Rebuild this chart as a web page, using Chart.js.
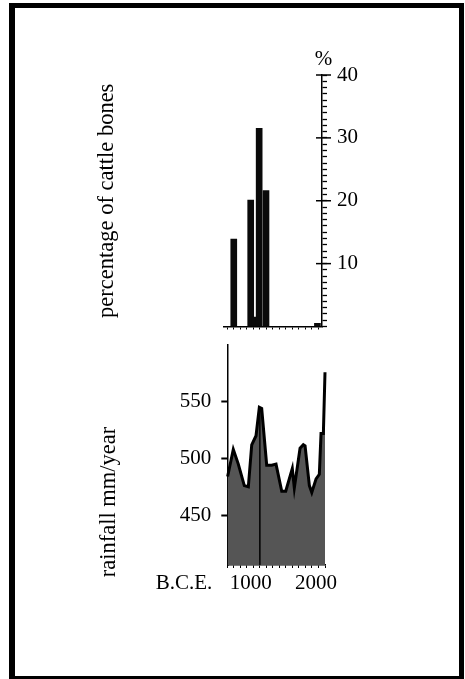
<!DOCTYPE html>
<html>
<head>
<meta charset="utf-8">
<script src="https://cdn.jsdelivr.net/npm/chart.js@4"></script>
<style>
  html, body { margin: 0; padding: 0; background: #fff; overflow: hidden; }
  body { width: 465px; height: 679px; position: relative; }
  canvas { position: absolute; left: 0; }
  #bones { top: 0; }
  #rain { top: 315px; }
  #frame {
    position: absolute; left: 9px; top: 3px; width: 455px; height: 678px;
    box-sizing: border-box; border: 5px solid #000; border-left-width: 6px;
  }
</style>
</head>
<body>
<canvas id="bones" width="465" height="360"></canvas>
<canvas id="rain" width="465" height="325"></canvas>
<div id="frame"></div>
<script>
// top panel: cattle bones
const boneYears = [600, 860, 925, 990, 1095, 1885];
const bonePercent = [13.9, 20.1, 1.5, 31.5, 21.6, 0.5];
const percentLabels = [10, 20, 30, 40];

// bottom panel: rainfall
const rainYears = [505, 592, 669, 761, 823, 875, 941, 992, 1028, 1105, 1182, 1248, 1336,
  1397, 1498, 1529, 1617, 1667, 1694, 1760, 1797, 1863, 1913, 1939, 1975, 2000];
const rainMm = [484, 508, 495, 476, 475, 512, 520, 545, 544, 494, 494, 495, 471,
  471, 491, 474, 509, 512, 511, 476, 470, 482, 486, 522, 522, 576];
const rainLabels = [450, 500, 550];
const yearLabels = [1000, 2000];
const yearStep = 100;
const markerYear = 1000;
const markerTop = 544;

Chart.defaults.font.family = "'Liberation Serif', 'Times New Roman', serif";
Chart.defaults.font.size = 21;
Chart.defaults.color = '#000';

const yearTicks = (from, to) => s => {
    s.ticks = [];
    for (let v = from; v <= to; v += yearStep) s.ticks.push({ value: v });
};

const boneMarks = {
    id: 'boneMarks',
    afterDraw(chart) {
        const { ctx, chartArea, scales } = chart;
        const y = scales.y;
        ctx.save();
        ctx.strokeStyle = '#000';
        ctx.lineWidth = 1.5;
        percentLabels.forEach(v => {
            const py = y.getPixelForValue(v);
            ctx.beginPath();
            ctx.moveTo(chartArea.right - 6, py);
            ctx.lineTo(chartArea.right + 9, py);
            ctx.stroke();
        });
        ctx.font = "21px 'Liberation Serif'";
        ctx.fillStyle = '#000';
        ctx.textAlign = 'center';
        ctx.textBaseline = 'middle';
        ctx.fillText('%', chartArea.right + 1.5, y.getPixelForValue(40) - 16);
        ctx.restore();
    }
};

const rainText = {
    id: 'rainText',
    afterDraw(chart) {
        const { ctx, chartArea } = chart;
        ctx.save();
        ctx.font = "21px 'Liberation Serif'";
        ctx.fillStyle = '#000';
        ctx.textAlign = 'right';
        ctx.textBaseline = 'middle';
        ctx.fillText('B.C.E.', chartArea.left - 15, chartArea.bottom + 18);
        ctx.font = "22.5px 'Liberation Serif'";
        ctx.translate(109, chartArea.bottom - 63);
        ctx.rotate(-Math.PI / 2);
        ctx.textAlign = 'center';
        ctx.fillText('rainfall mm/year', 0, 0);
        ctx.restore();
    }
};

new Chart(document.getElementById('bones'), {
    type: 'bar',
    data: {
        datasets: [{
            data: boneYears.map((x, i) => ({ x, y: bonePercent[i] })),
            backgroundColor: '#0a0a0a',
            barThickness: 6,
            grouped: false
        }]
    },
    options: {
        responsive: false,
        animation: false,
        layout: { padding: { top: 75, left: 0, right: 0, bottom: 0 } },
        plugins: { legend: { display: false }, tooltip: { enabled: false } },
        scales: {
            x: {
                type: 'linear', min: 450, max: 1955, offset: false,
                grid: { drawOnChartArea: false, offset: false, tickLength: 3, tickColor: '#000' },
                border: { color: '#000', width: 1.5 },
                ticks: { autoSkip: false, callback: () => '' },
                afterBuildTicks: yearTicks(500, 1900),
                afterFit: s => { s.height = 33.5; }
            },
            y: {
                position: 'right', min: 0, max: 40,
                grid: { drawOnChartArea: false, tickLength: 5, tickColor: '#000', tickWidth: 1.3 },
                border: { color: '#000', width: 1.5 },
                ticks: { autoSkip: false, padding: 10, callback: v => percentLabels.includes(v) ? String(v) : '' },
                afterBuildTicks: s => {
                    s.ticks = [];
                    for (let v = 0; v <= 40; v++) s.ticks.push({ value: v });
                },
                afterFit: s => { s.width = 143; }
            },
            yl: {
                position: 'left',
                ticks: { display: false },
                grid: { display: false },
                border: { display: false },
                title: {
                    display: true, text: 'percentage of cattle bones',
                    font: { size: 22.5 }, padding: { top: 94, bottom: 0 }
                },
                afterFit: s => { s.width = 224; }
            }
        }
    },
    plugins: [boneMarks]
});

new Chart(document.getElementById('rain'), {
    type: 'line',
    data: {
        datasets: [{
            data: rainYears.map((x, i) => ({ x, y: rainMm[i] })),
            borderColor: '#000',
            borderWidth: 3,
            backgroundColor: '#555555',
            fill: 'start',
            pointRadius: 0,
            tension: 0,
            clip: 4,
            order: 0
        }, {
            data: [{ x: markerYear, y: 406 }, { x: markerYear, y: markerTop }],
            borderColor: '#000',
            borderWidth: 1.5,
            pointRadius: 0,
            fill: false,
            order: 1
        }]
    },
    options: {
        responsive: false,
        animation: false,
        layout: { padding: { top: 30, left: 0, right: 140, bottom: 0 } },
        plugins: {
            legend: { display: false },
            tooltip: { enabled: false },
            filler: { drawTime: 'beforeDatasetsDraw' }
        },
        scales: {
            x: {
                type: 'linear', min: 500, max: 2000,
                grid: { drawOnChartArea: false, tickLength: 3, tickColor: '#000' },
                border: { color: '#000', width: 1.5 },
                ticks: {
                    autoSkip: false, maxRotation: 0, padding: 3, labelOffset: -9,
                    callback: v => yearLabels.includes(v) ? String(v) : ''
                },
                afterBuildTicks: yearTicks(500, 2000),
                afterFit: s => { s.height = 75; }
            },
            y: {
                min: 406, max: 600,
                grid: { drawOnChartArea: false, tickLength: 6, tickColor: '#000', tickWidth: 2 },
                border: { color: '#000', width: 1.5 },
                ticks: { padding: 10 },
                afterBuildTicks: s => { s.ticks = rainLabels.map(v => ({ value: v })); },
                afterFit: s => { s.width = 227.3; }
            }
        }
    },
    plugins: [rainText]
});
</script>
</body>
</html>
